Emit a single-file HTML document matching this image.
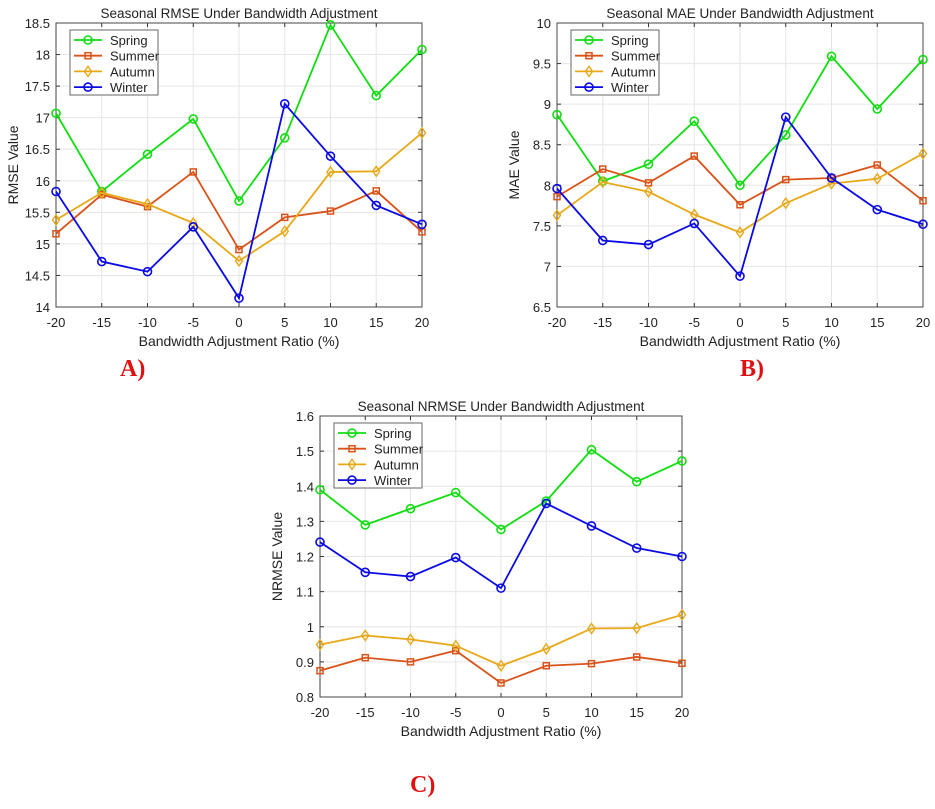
<!DOCTYPE html>
<html><head><meta charset="utf-8"><style>
body{margin:0;background:#fff;width:935px;height:809px;overflow:hidden;font-family:"Liberation Sans",sans-serif}
svg text{font-family:"Liberation Sans",sans-serif;fill:#222}
.lab{position:absolute;font-family:"Liberation Serif",serif;font-weight:bold;color:#e01010;font-size:24px}
</style></head><body>
<svg id="s" width="935" height="809" style="position:absolute;left:0;top:0"></svg>
<div class="lab" style="left:120px;top:356px">A)</div>
<div class="lab" style="left:740px;top:356px">B)</div>
<div class="lab" style="left:410px;top:772px">C)</div>
<script>
const categories=[-20,-15,-10,-5,0,5,10,15,20];
const seriesNames=["Spring","Summer","Autumn","Winter"];
const rmseSpring=[17.07,15.83,16.42,16.98,15.68,16.68,18.47,17.35,18.08];
const rmseSummer=[15.16,15.78,15.59,16.14,14.91,15.42,15.52,15.84,15.19];
const rmseAutumn=[15.38,15.81,15.63,15.33,14.73,15.2,16.14,16.15,16.76];
const rmseWinter=[15.83,14.72,14.56,15.27,14.14,17.22,16.39,15.61,15.31];
const maeSpring=[8.87,8.05,8.26,8.79,8.0,8.62,9.59,8.94,9.55];
const maeSummer=[7.86,8.2,8.03,8.36,7.76,8.07,8.09,8.25,7.81];
const maeAutumn=[7.63,8.04,7.92,7.64,7.42,7.78,8.02,8.08,8.39];
const maeWinter=[7.96,7.32,7.27,7.53,6.88,8.84,8.09,7.70,7.52];
const nrmseSpring=[1.39,1.29,1.336,1.382,1.277,1.358,1.504,1.413,1.472];
const nrmseSummer=[0.875,0.912,0.900,0.932,0.840,0.889,0.895,0.914,0.896];
const nrmseAutumn=[0.949,0.975,0.964,0.946,0.889,0.937,0.995,0.996,1.034];
const nrmseWinter=[1.241,1.155,1.143,1.197,1.110,1.351,1.287,1.224,1.200];
const rmseTicks=["14","14.5","15","15.5","16","16.5","17","17.5","18","18.5"];
const maeTicks=["6.5","7","7.5","8","8.5","9","9.5","10"];
const nrmseTicks=["0.8","0.9","1","1.1","1.2","1.3","1.4","1.5","1.6"];
const colors=["#11dd11","#d95319","#e8a817","#0a0ae6"];
const markers=["circle","square","diamond","circle"];
const NS="http://www.w3.org/2000/svg";
const svg=document.getElementById('s');
function el(t,a,p){const e=document.createElementNS(NS,t);for(const k in a)e.setAttribute(k,a[k]);(p||svg).appendChild(e);return e;}
function marker(g,m,x,y,c){
  let e;
  if(m==="circle")e=el('circle',{cx:x,cy:y,r:4,fill:'none',stroke:c,'stroke-width':1.6},g);
  else if(m==="square")e=el('rect',{x:x-3,y:y-3,width:6,height:6,fill:'none',stroke:c,'stroke-width':1.5},g);
  else e=el('polygon',{points:`${x},${y-5} ${x+3.5},${y} ${x},${y+5} ${x-3.5},${y}`,fill:'none',stroke:c,'stroke-width':1.4},g);
  return e;
}
function chart(id,L,R,T,B,ticks,series,title,ylab){
  const g=el('g',{});
  
  
  const ymin=+ticks[0],ymax=+ticks[ticks.length-1];
  const xs=v=>L+(v-categories[0])/(categories[categories.length-1]-categories[0])*(R-L);
  const ys=v=>B-(v-ymin)/(ymax-ymin)*(B-T);
  ticks.forEach(t=>{const y=ys(+t);
    el('line',{x1:L,x2:R,y1:y,y2:y,stroke:'#e6e6e6'},g);
    el('line',{x1:L,x2:L+4,y1:y,y2:y,stroke:'#333'},g);el('line',{x1:R,x2:R-4,y1:y,y2:y,stroke:'#333'},g);
    const tx=el('text',{x:L-6,y:y+5,'text-anchor':'end','font-size':13},g);tx.textContent=t;
    
    });
  categories.forEach(c=>{const x=xs(c);
    el('line',{x1:x,x2:x,y1:T,y2:B,stroke:'#e6e6e6'},g);
    el('line',{x1:x,x2:x,y1:B,y2:B-4,stroke:'#333'},g);el('line',{x1:x,x2:x,y1:T,y2:T+4,stroke:'#333'},g);
    const tx=el('text',{x:x,y:B+20,'text-anchor':'middle','font-size':13},g);tx.textContent=c;
    
    });
  el('rect',{x:L,y:T,width:R-L,height:B-T,fill:'none',stroke:'#444','stroke-width':1},g);
  const tt=el('text',{x:(L+R)/2,y:T-5,'text-anchor':'middle','font-size':13.5},g);tt.textContent=title;
  
  
  const xl=el('text',{x:(L+R)/2,y:B+39,'text-anchor':'middle','font-size':14},g);xl.textContent="Bandwidth Adjustment Ratio (%)";
  
  
  const yl=el('text',{x:0,y:0,'text-anchor':'middle','font-size':14,transform:`translate(${L-38},${(T+B)/2}) rotate(-90)`},g);yl.textContent=ylab;
  
  
  series.forEach((s,i)=>{
    const sg=el('g',{},g);
    
    
    el('polyline',{points:s.map((v,j)=>xs(categories[j])+','+ys(v)).join(' '),fill:'none',stroke:colors[i],'stroke-width':1.8},sg);
    s.forEach((v,j)=>{const m=marker(sg,markers[i],xs(categories[j]),ys(v),colors[i]);
      
      });
  });
  const lx=L+14,ly=T+7;
  const lg=el('g',{},g);
  
  
  el('rect',{x:lx,y:ly,width:88,height:65,fill:'#fff',stroke:'#666'},lg);
  seriesNames.forEach((n,i)=>{const y=ly+10+i*15.7;
    el('line',{x1:lx+4,x2:lx+32,y1:y,y2:y,stroke:colors[i],'stroke-width':1.8},lg);
    marker(lg,markers[i],lx+18,y,colors[i]);
    const t=el('text',{x:lx+40,y:y+5,'font-size':13},lg);t.textContent=n;
    
    });
}
chart('rmse-chart',56,422,23,307,rmseTicks,[rmseSpring,rmseSummer,rmseAutumn,rmseWinter],"Seasonal RMSE Under Bandwidth Adjustment","RMSE Value");
chart('mae-chart',557,923,23,307,maeTicks,[maeSpring,maeSummer,maeAutumn,maeWinter],"Seasonal MAE Under Bandwidth Adjustment","MAE Value");
chart('nrmse-chart',320,682,416,697,nrmseTicks,[nrmseSpring,nrmseSummer,nrmseAutumn,nrmseWinter],"Seasonal NRMSE Under Bandwidth Adjustment","NRMSE Value");
</script>
</body></html>
